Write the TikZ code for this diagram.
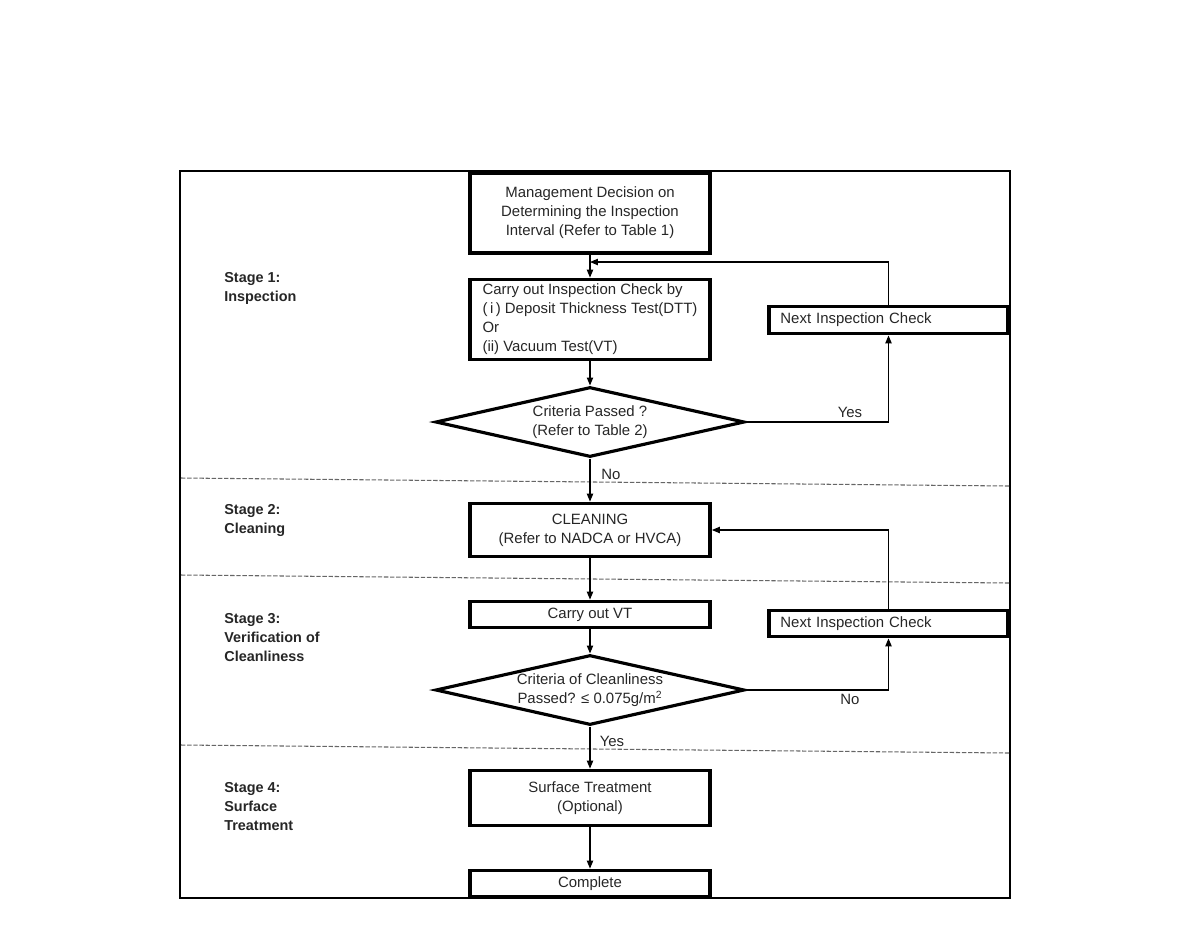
\documentclass[tikz,border=0pt]{standalone}
\usepackage{fontspec}
\setmainfont{Liberation Sans}
\usetikzlibrary{shapes.geometric,arrows.meta}
\begin{document}
\begin{tikzpicture}[x=0.02cm,y=-0.02cm,
  every node/.style={font=\fontsize{8.5}{10.8}\selectfont, inner sep=0pt, text=black!85},
  box/.style={draw=black, line width=2.2pt, minimum width=4.8cm, align=center},
  leftbox/.style={box, align=left, text width=4.78cm-13pt, inner xsep=6.5pt},
  decision/.style={draw=black, diamond, line width=1.8pt, aspect=4.4, minimum width=6.18cm, minimum height=1.4cm, align=center},
  stagelabel/.style={anchor=west, align=left, font=\fontsize{8.2}{10.8}\selectfont\bfseries},
  arr/.style={-{Triangle[length=4.5pt,width=3.6pt]}, line width=0.6pt},
  sep/.style={dashed, dash pattern=on 2.5pt off 1pt, draw=black!60, line width=0.6pt}
]
\useasboundingbox (0,0) rectangle (1190,938);
% frame
\draw[line width=1pt] (180,171) rectangle (1010,898);
% separators
\draw[sep] (181,478) -- (1009,486);
\draw[sep] (181,575) -- (1009,583);
\draw[sep] (181,745) -- (1009,753);
% stage labels
\node[stagelabel] (s1) at (224,288) {Stage 1:\\Inspection};
\node[stagelabel] (s2) at (224,520.5) {Stage 2:\\Cleaning};
\node[stagelabel] (s3) at (224,637.5) {Stage 3:\\Verification of\\Cleanliness};
\node[stagelabel] (s4) at (224,806.5) {Stage 4:\\Surface\\Treatment};
% boxes
\node[box, minimum height=1.6cm] (mgmt) at (590,213) {Management Decision on\\Determining the Inspection\\Interval (Refer to Table 1)};
\node[box, align=left, minimum height=1.6cm] (insp) at (590,319.5) {Carry out Inspection Check by\\(\,i\,) Deposit Thickness Test(DTT)\\Or\\(ii) Vacuum Test(VT)};
\node[leftbox, minimum width=4.78cm, minimum height=0.54cm] (nic1) at (888.5,320) {Next Inspection Check};
\node[decision] (d1) at (590,422) {Criteria Passed ?\\(Refer to Table 2)};
\node[box, minimum height=1.06cm] (clean) at (590,530) {CLEANING\\(Refer to NADCA or HVCA)};
\node[box, minimum height=0.52cm] (vt) at (590,614.5) {Carry out VT};
\node[leftbox, minimum width=4.78cm, minimum height=0.52cm] (nic2) at (888.5,623.5) {Next Inspection Check};
\node[decision] (d2) at (590,690) {Criteria of Cleanliness\\Passed? ≤ 0.075g/m\textsuperscript{2}};
\node[box, minimum height=1.1cm] (surf) at (590,798) {Surface Treatment\\(Optional)};
\node[box, minimum height=0.52cm] (done) at (590,883.5) {Complete};
% join point
\coordinate (j1) at (590,262);
% connectors
\draw[arr] (mgmt.south) -- (insp.north);
\draw[arr] (nic1.north) |- (j1);
\draw[arr] (insp.south) -- (d1.north);
\draw[arr] (d1.east) -| (nic1.south);
\draw[arr] (d1.south) -- (clean.north);
\draw[arr] (nic2.north) |- (clean.east);
\draw[arr] (clean.south) -- (vt.north);
\draw[arr] (vt.south) -- (d2.north);
\draw[arr] (d2.east) -| (nic2.south);
\draw[arr] (d2.south) -- (surf.north);
\draw[arr] (surf.south) -- (done.north);
% labels
\node (yes1) at (850,412) {Yes};
\node (no1) at (611,474) {No};
\node (no2) at (850,699) {No};
\node (yes2) at (612,741) {Yes};
\end{tikzpicture}
\end{document}
